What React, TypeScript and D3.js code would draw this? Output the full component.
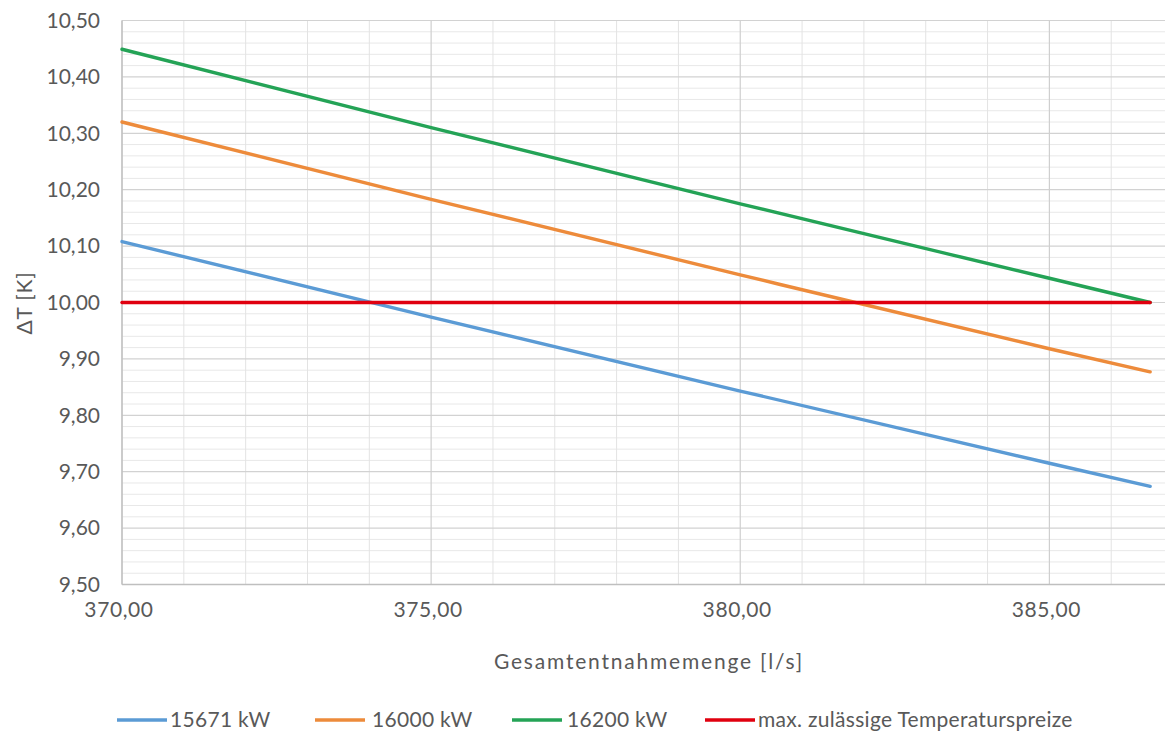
import React from "react";
import * as d3 from "d3";

const xValues = [370, 375, 380, 385, 386.63];
const series15671 = [10.108, 9.974, 9.843, 9.715, 9.674];
const series16000 = [10.32, 10.183, 10.049, 9.918, 9.877];
const series16200 = [10.449, 10.31, 10.175, 10.043, 10.0];
const seriesMax = [10.0, 10.0, 10.0, 10.0, 10.0];
const seriesNames = ["15671 kW", "16000 kW", "16200 kW", "max. zulässige Temperaturspreize"];
const seriesColors = ["#5B9BD5", "#ED8B3B", "#24A356", "#E0000F"];
const xTicks = [370, 375, 380, 385];
const yTicks = [9.5, 9.6, 9.7, 9.8, 9.9, 10.0, 10.1, 10.2, 10.3, 10.4, 10.5];

const W = 1167;
const H = 736;
const margin = { left: 122, right: 2, top: 20.5, bottom: 151 };
const FONT = "Lato, 'Open Sans', sans-serif";
const TEXT = "#595959";

const fmt = (v: number) => v.toFixed(2).replace(".", ",");

export default function App() {
  const x = d3.scaleLinear().domain([370, 386.87]).range([margin.left, W - margin.right]);
  const y = d3.scaleLinear().domain([9.5, 10.5]).range([H - margin.bottom - 0.5, margin.top]);

  const allSeries = [series15671, series16000, series16200, seriesMax];
  const line = d3
    .line<[number, number]>()
    .x((d) => x(d[0]))
    .y((d) => y(d[1]))
    .curve(d3.curveMonotoneX);

  const minorX = d3.range(371, 387, 1).filter((v) => v % 5 !== 0);
  const minorY = d3.range(0, 51).map((i) => 9.5 + i * 0.02).filter((_, i) => i % 5 !== 0);

  const legendItems = [
    { lx: 117, tx: 170 },
    { lx: 315, tx: 372 },
    { lx: 512, tx: 567 },
    { lx: 705, tx: 758 },
  ];

  return (
    <svg width={W} height={H} style={{ position: "absolute", left: 0, top: 0, background: "#fff" }} fontFamily={FONT}>
      <rect x={0} y={0} width={W} height={H} fill="#fff" />
      {/* minor grid */}
      {minorY.map((v, i) => (
        <line key={"my" + i} x1={x.range()[0]} x2={x.range()[1]} y1={y(v)} y2={y(v)} stroke="#E8E8E8" strokeWidth={1} />
      ))}
      {minorX.map((v, i) => (
        <line key={"mx" + i} x1={x(v)} x2={x(v)} y1={y(9.5)} y2={y(10.5)} stroke="#E3E3E3" strokeWidth={1} />
      ))}
      {/* major grid */}
      {yTicks.map((v, i) => (
        <line key={"gy" + i} x1={x.range()[0]} x2={x.range()[1]} y1={y(v)} y2={y(v)} stroke="#D2D2D2" strokeWidth={1.2} />
      ))}
      {xTicks.map((v, i) => (
        <line key={"gx" + i} x1={x(v)} x2={x(v)} y1={y(9.5)} y2={y(10.5)} stroke="#CFCFCF" strokeWidth={1.2} />
      ))}
      {/* axes */}
      <line x1={x(370)} x2={x(370)} y1={y(9.5)} y2={y(10.5)} stroke="#BFBFBF" strokeWidth={1.3} />
      <line x1={x.range()[0]} x2={x.range()[1]} y1={y(9.5)} y2={y(9.5)} stroke="#BFBFBF" strokeWidth={1.3} />

      {/* y tick labels */}
      {yTicks.map((v, i) => (
        <text key={"ty" + i} x={100} y={y(v)} dy="0.35em" textAnchor="end" fontSize={21} fill={TEXT}>
          {fmt(v)}
        </text>
      ))}
      {xTicks.map((v, i) => (
        <text key={"tx" + i} x={x(v) - 3} y={617} textAnchor="middle" fontSize={21} letterSpacing={0.6} fill={TEXT}>
          {fmt(v)}
        </text>
      ))}

      {/* axis titles */}
      <text x={649} y={669} textAnchor="middle" fontSize={21} letterSpacing={1.8} fill={TEXT}>
        Gesamtentnahmemenge [l/s]
      </text>
      <text transform={`translate(32,${303}) rotate(-90)`} textAnchor="middle" fontSize={21} letterSpacing={0.8} fill={TEXT}>
        ΔT [K]
      </text>

      {/* series */}
      {allSeries.map((s, i) => (
        <path
          key={"s" + i}
          d={line(xValues.map((xv, j) => [xv, s[j]] as [number, number])) || ""}
          fill="none"
          stroke={seriesColors[i]}
          strokeWidth={3.4}
          strokeLinecap="round"
        />
      ))}

      {/* legend */}
      {legendItems.map((it, i) => (
        <g key={"lg" + i}>
          <line x1={it.lx} x2={it.lx + 50} y1={720} y2={720} stroke={seriesColors[i]} strokeWidth={3.4} />
          <text x={it.tx} y={720} dy="0.35em" fontSize={21} letterSpacing={0.3} fill={TEXT}>
            {seriesNames[i]}
          </text>
        </g>
      ))}
    </svg>
  );
}
